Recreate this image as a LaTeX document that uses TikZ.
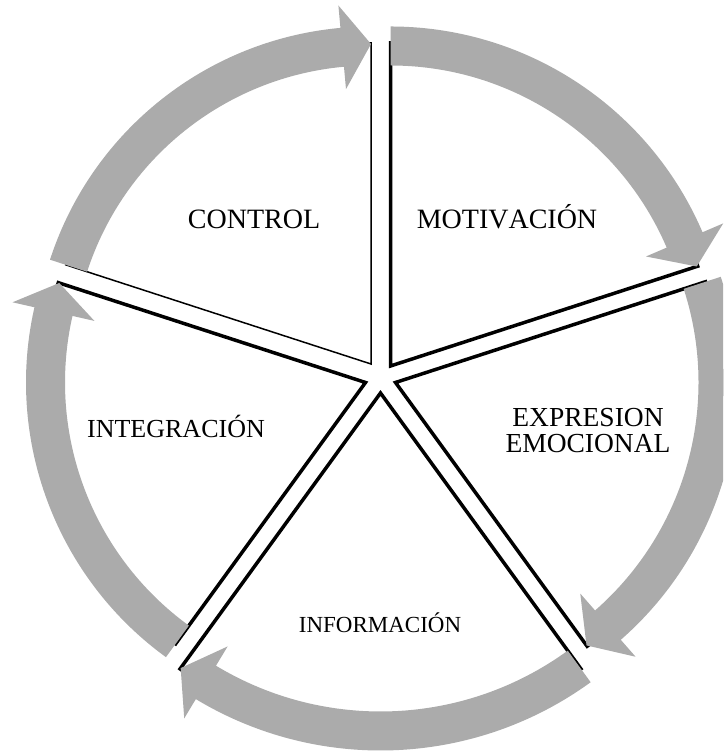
\documentclass[tikz,border=0pt]{standalone}
\usepackage{fontspec}
\setmainfont[Kerning=Off]{Liberation Serif}
\usepackage{tikz}
\definecolor{bandgray}{RGB}{171,171,171}

\begin{document}
\begin{tikzpicture}[
    x=1pt, y=1pt,
    wedgeline/.style={draw=black, line width=3.5pt, line join=miter},
    wedgethin/.style={draw=black, line width=1.5pt, line join=miter},
    bandarrow/.style={fill=bandgray, draw=none},
    seglabel/.style={font=\fontsize{28}{26}\selectfont, inner sep=0pt}
]
\useasboundingbox (0,0) rectangle (723,751);
\clip (0,0) rectangle (723,751);

% Segment apexes
\coordinate (ctr) at (371,387);
\coordinate (mot) at (390.5,385);
\coordinate (exp) at (395.5,368.5);
\coordinate (inf) at (380.5,358);
\coordinate (itg) at (365.5,368.5);

% Segments (outlines)
\draw[wedgethin, shift={(ctr)}] (0,0) -- (162:321) arc[start angle=162, end angle=90, radius=321] -- cycle;
\draw[wedgeline, shift={(mot)}] (0,0) -- (90:323) arc[start angle=90, end angle=18, radius=323] -- cycle;
\draw[wedgeline, shift={(exp)}] (0,0) -- (18:326) arc[start angle=18, end angle=-54, radius=326] -- cycle;
\draw[wedgeline, shift={(inf)}] (0,0) -- (-54:341) arc[start angle=-54, end angle=-126, radius=341] -- cycle;
\draw[wedgeline, shift={(itg)}] (0,0) -- (234:323) arc[start angle=234, end angle=162, radius=323] -- cycle;

% Curved arrows round the segments
\fill[bandarrow, shift={(ctr)}] (162:337.5) arc[start angle=162, end angle=95.2, radius=337.5]
    -- (95.2:360) -- (90:320) -- (95.2:276) -- (95.2:298.5)
    arc[start angle=95.2, end angle=162, radius=298.5] -- cycle;
\fill[bandarrow, shift={(mot)}] (90:339.5) arc[start angle=90, end angle=23.2, radius=339.5]
    -- (23.2:362) -- (18:322) -- (23.2:278) -- (23.2:300.5)
    arc[start angle=23.2, end angle=90, radius=300.5] -- cycle;
\fill[bandarrow, shift={(exp)}] (18:342) arc[start angle=18, end angle=-48.8, radius=342]
    -- (-48.8:364.5) -- (-54:325) -- (-48.8:280.5) -- (-48.8:303)
    arc[start angle=-48.8, end angle=18, radius=303] -- cycle;
\fill[bandarrow, shift={(inf)}] (-54:357.5) arc[start angle=-54, end angle=-121.1, radius=357.5]
    -- (-121.1:380) -- (-126:340) -- (-121.1:296) -- (-121.1:318.5)
    arc[start angle=-121.1, end angle=-54, radius=318.5] -- cycle;
\fill[bandarrow, shift={(itg)}] (234:339.5) arc[start angle=234, end angle=167.2, radius=339.5]
    -- (167.2:362) -- (162:322) -- (167.2:278) -- (167.2:300.5)
    arc[start angle=167.2, end angle=234, radius=300.5] -- cycle;

% Labels
\node[seglabel, anchor=base] (lblctr) at (254,522) {CONTROL};
\node[seglabel, anchor=base] (lblmot) at (507,522) {MOTIVACIÓN};
\node[seglabel, font=\fontsize{27.5}{26}\selectfont, align=center] (lblexp) at (588,320) {EXPRESION\\EMOCIONAL};
\node[seglabel, font=\fontsize{26}{26}\selectfont, anchor=base] (lblitg) at (176,313) {INTEGRACIÓN};
\node[seglabel, font=\fontsize{23}{23}\selectfont, anchor=base] (lblinf) at (380,118) {INFORMACIÓN};

\end{tikzpicture}
\end{document}
